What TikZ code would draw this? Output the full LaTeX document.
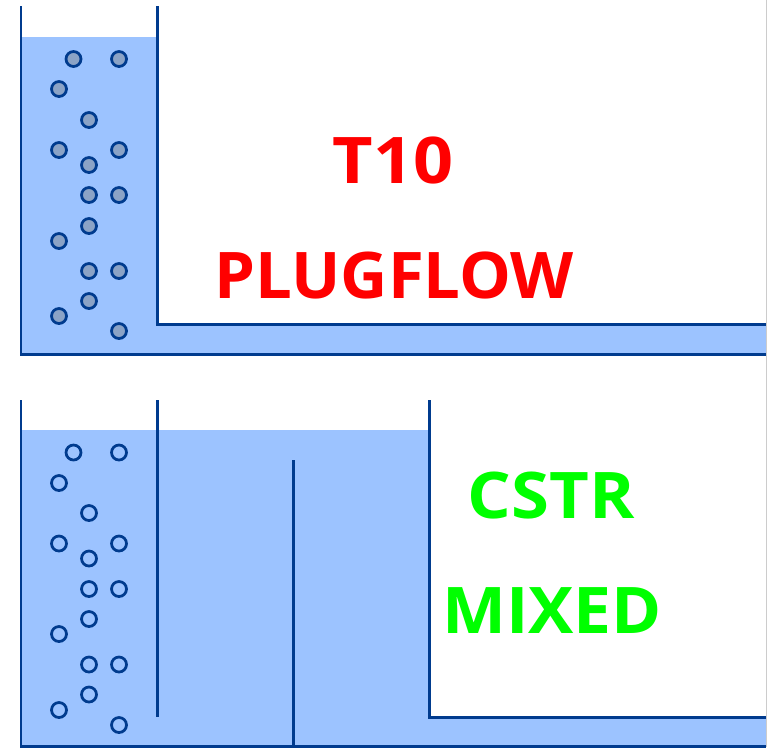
\documentclass[tikz,border=0pt]{standalone}
\usepackage{fontspec}
\setmainfont{Open Sans}
\definecolor{wallblue}{HTML}{003B8E}
\definecolor{waterblue}{HTML}{9CC3FF}
\definecolor{solidblue}{HTML}{8BA3C6}
\tikzset{
  wall/.style={draw=wallblue,line width=0.06cm},
  bubble/.style={circle,draw=wallblue,line width=0.055cm,minimum size=0.3cm,inner sep=0pt},
  title/.style={font=\bfseries\fontsize{36.6}{36.6}\selectfont,inner sep=0pt,anchor=base},
}
\begin{document}
\begin{tikzpicture}[x=0.02cm,y=-0.02cm]
    \useasboundingbox (0,0) rectangle (767,747);
    \draw[gray!40,line width=0.02cm] (766.5,0)--(766.5,747); %right edge
    %upper tank
    \fill[waterblue] (21,37) rectangle (157,354);
    \fill[waterblue] (157,324) rectangle (766,354);
    \draw[wall] (21,6)--(21,354)--(766,354);
    \draw[wall] (157,6)--(157,324)--(766,324);
    \foreach \i/\x/\y in {1/73.5/59,2/119/59,3/59/89,4/89/120,5/59/150,6/119/150,7/89/165,8/89/195,9/119/195,10/89/226,11/59/241,12/89/271,13/119/271,14/89/301,15/59/316,16/119/331}
        \node[bubble,fill=solidblue] (a\i) at (\x,\y) {};
    \node[title,text=red] (t10) at (393,183.3) {\scalebox{1.09}[1]{T10}};
    \node[title,text=red] (plugflow) at (394,298) {\scalebox{1.015}[1]{PLUGFLOW}};
    %lower tank
    \fill[waterblue] (21,430) rectangle (429,746);
    \fill[waterblue] (429,717) rectangle (766,746);
    \draw[wall] (21,400)--(21,746)--(766,746);
    \draw[wall] (157,400)--(157,717);
    \draw[wall] (293,460)--(293,746);
    \draw[wall] (429,400)--(429,717)--(766,717);
    \foreach \i/\x/\y in {1/73.5/452.5,2/119/452.5,3/59/483,4/89/513,5/59/543.5,6/119/543.5,7/89/558.5,8/89/589,9/119/589,10/89/619,11/59/634,12/89/664.5,13/119/664.5,14/89/694.5,15/59/710,16/119/725}
        \node[bubble] (b\i) at (\x,\y) {};
    \node[title,text=green] (cstr) at (551,518) {\scalebox{1.07}[1]{CSTR}};
    \node[title,text=green] (mixed) at (552,633) {\scalebox{1.055}[1]{MIXED}};
\end{tikzpicture}
\end{document}
